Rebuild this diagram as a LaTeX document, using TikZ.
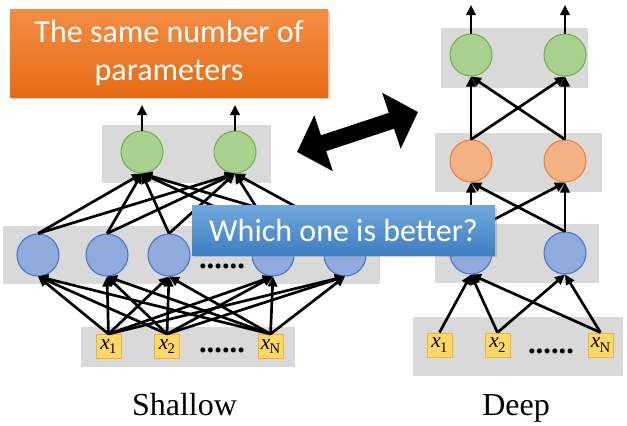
\documentclass[tikz,border=0pt]{standalone}
\usepackage{fontspec}
\setmainfont{Liberation Serif}
\newfontfamily\calibri{Carlito}
\usetikzlibrary{arrows.meta,shadows}

\definecolor{layergray}{RGB}{217,217,217}
\definecolor{greenfill}{RGB}{169,209,142}
\definecolor{greendraw}{RGB}{112,173,71}
\definecolor{orangefill}{RGB}{244,177,131}
\definecolor{orangedraw}{RGB}{237,125,49}
\definecolor{bluefill}{RGB}{143,170,220}
\definecolor{bluedraw}{RGB}{68,114,196}
\definecolor{xfill}{RGB}{255,217,102}
\definecolor{xdraw}{RGB}{240,176,60}
\definecolor{calloutorangetop}{RGB}{244,141,68}
\definecolor{calloutorangebot}{RGB}{228,108,22}
\definecolor{calloutbluetop}{RGB}{112,167,222}
\definecolor{calloutbluebot}{RGB}{62,126,194}

\newcommand\xlab[1]{\textit{x}\kern-0.5pt\raisebox{-0.45ex}{\fontsize{11}{11}\selectfont #1}}

\tikzset{every picture/.style={line width=0.75pt}}
\tikzset{
  outunit/.style={circle, minimum size=31.5pt, inner sep=0pt, draw=greendraw, fill=greenfill},
  midunit/.style={circle, minimum size=31.5pt, inner sep=0pt, draw=orangedraw, fill=orangefill},
  hidunit/.style={circle, minimum size=31.5pt, inner sep=0pt, draw=bluedraw, fill=bluefill},
  inbox/.style={rectangle, minimum width=18.75pt, minimum height=18pt, inner sep=0pt, draw=xdraw, fill=xfill, font=\fontsize{16}{16}\selectfont},
  dotrow/.style={inner sep=0pt, font=\bfseries\fontsize{23}{23}\selectfont},
  conn/.style={line width=2pt, -{Triangle[length=7.5pt,width=7pt]}},
  bigarrow/.style={line width=12.5pt, {Triangle[length=21pt,width=43pt]}-{Triangle[length=21pt,width=43pt]}},
  callout/.style={rectangle, inner sep=0pt, text=white, align=center, font=\calibri\fontsize{24}{28.5}\selectfont, drop shadow={shadow xshift=1.5pt, shadow yshift=-1.5pt, opacity=0.35}},
  caption/.style={anchor=base, inner sep=0pt, font=\fontsize{24}{24}\selectfont}
}

\begin{document}
\begin{tikzpicture}[x=0.75pt,y=0.75pt,yscale=-1,xscale=1]
\useasboundingbox (0,0) rectangle (627,425);

%Shape: Rectangle [layers, shallow]
\fill[layergray] (102,125) rectangle (271,183);
\fill[layergray] (3,226) rectangle (380,284);
\fill[layergray] (81,327) rectangle (295,367);
%Shape: Rectangle [layers, deep]
\fill[layergray] (441,28) rectangle (588,88);
\fill[layergray] (435,133) rectangle (602,192);
\fill[layergray] (435,224) rectangle (599,283);
\fill[layergray] (413,317) rectangle (623,376);

%Shape: Circle [shallow units]
\node[outunit] (so1) at (142,152) {};
\node[outunit] (so2) at (235,152) {};
\node[hidunit] (sh1) at (38,255) {};
\node[hidunit] (sh2) at (107,255) {};
\node[hidunit] (sh3) at (169,255) {};
\node[hidunit] (sh4) at (273,255) {};
\node[hidunit] (sh5) at (345,255) {};
% Text Node
\node[dotrow] (shdots) at (222,266) {......};

%Shape: Rectangle [shallow inputs]
\node[inbox] (sx1) at (108.5,346.5) {\xlab{1}};
\node[inbox] (sx2) at (167,346.5) {\xlab{2}};
\node[inbox] (sxN) at (270.5,346.5) {\xlab{N}};
% Text Node
\node[dotrow] (sxdots) at (222,350) {......};

%Shape: Circle [deep units]
\node[outunit] (do1) at (471,55) {};
\node[outunit] (do2) at (565,55) {};
\node[midunit] (dm1) at (471,161) {};
\node[midunit] (dm2) at (565,161) {};
\node[hidunit] (dh1) at (471,253) {};
\node[hidunit] (dh2) at (565,253) {};

%Shape: Rectangle [deep inputs]
\node[inbox] (dx1) at (439.5,345) {\xlab{1}};
\node[inbox] (dx2) at (497.5,345) {\xlab{2}};
\node[inbox] (dxN) at (600.5,345) {\xlab{N}};
% Text Node
\node[dotrow] (dxdots) at (551,351) {......};

%Straight Lines [shallow, inputs to hidden]
\draw[conn] (sx1.north) -- (sh1.south);
\draw[conn] (sx1.north) -- (sh2.south);
\draw[conn] (sx1.north) -- (sh3.south);
\draw[conn] (sx1.north) -- (sh4.south);
\draw[conn] (sx1.north) -- (sh5.south);
\draw[conn] (sx2.north) -- (sh1.south);
\draw[conn] (sx2.north) -- (sh2.south);
\draw[conn] (sx2.north) -- (sh3.south);
\draw[conn] (sx2.north) -- (sh4.south);
\draw[conn] (sx2.north) -- (sh5.south);
\draw[conn] (sxN.north) -- (sh1.south);
\draw[conn] (sxN.north) -- (sh2.south);
\draw[conn] (sxN.north) -- (sh3.south);
\draw[conn] (sxN.north) -- (sh4.south);
\draw[conn] (sxN.north) -- (sh5.south);
%Straight Lines [shallow, hidden to output]
\draw[conn] (sh1.north) -- (so1.south);
\draw[conn] (sh1.north) -- (so2.south);
\draw[conn] (sh2.north) -- (so1.south);
\draw[conn] (sh2.north) -- (so2.south);
\draw[conn] (sh3.north) -- (so1.south);
\draw[conn] (sh3.north) -- (so2.south);
\draw[conn] (sh4.north) -- (so1.south);
\draw[conn] (sh4.north) -- (so2.south);
\draw[conn] (sh5.north) -- (so1.south);
\draw[conn] (sh5.north) -- (so2.south);
%Straight Lines [shallow, outputs]
\coordinate (sy1) at (142,105);
\coordinate (sy2) at (235,105);
\draw[conn] (so1.north) -- (sy1);
\draw[conn] (so2.north) -- (sy2);

%Straight Lines [deep, inputs to first layer]
\draw[conn] (dx1.north) -- (dh1.south);
\draw[conn] (dx2.north) -- (dh1.south);
\draw[conn] (dx2.north) -- (dh2.south);
\draw[conn] (dxN.north) -- (dh1.south);
\draw[conn] (dxN.north) -- (dh2.south);
%Straight Lines [deep, first to second layer]
\draw[conn] (dh1.north) -- (dm1.south);
\draw[conn] (dh1.north) -- (dm2.south);
\draw[conn] (dh2.north) -- (dm1.south);
\draw[conn] (dh2.north) -- (dm2.south);
%Straight Lines [deep, second layer to output]
\draw[conn] (dm1.north) -- (do1.south);
\draw[conn] (dm1.north) -- (do2.south);
\draw[conn] (dm2.north) -- (do1.south);
\draw[conn] (dm2.north) -- (do2.south);
%Straight Lines [deep, outputs]
\coordinate (dy1) at (471,5);
\coordinate (dy2) at (565,5);
\draw[conn] (do1.north) -- (dy1);
\draw[conn] (do2.north) -- (dy2);

%Shape: Double Arrow
\coordinate (cmpL) at (297,152);
\coordinate (cmpR) at (418,112);
\draw[bigarrow] (cmpL) -- (cmpR);

% Text Node
\node[callout, minimum width=238.5pt, minimum height=66pt, top color=calloutorangetop, bottom color=calloutorangebot] (same) at (169,53) {The same number of\\parameters};
% Text Node
\node[callout, minimum width=227pt, minimum height=37pt, top color=calloutbluetop, bottom color=calloutbluebot] (better) at (343.5,230.5) {Which one is better?};

% Text Node
\node[caption] (lshallow) at (184.5,415) {Shallow};
\node[caption] (ldeep) at (516,415) {Deep};

\end{tikzpicture}
\end{document}
